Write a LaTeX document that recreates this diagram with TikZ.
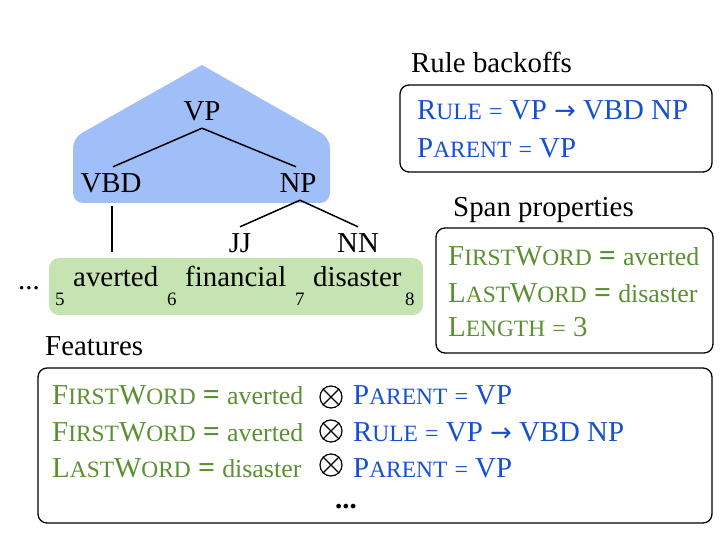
\documentclass[tikz,border=0pt]{standalone}
\usepackage{fontspec}
\setmainfont{Liberation Serif}
\newfontfamily\djv{DejaVu Sans}
\definecolor{bluetxt}{HTML}{1450D0}
\definecolor{greentxt}{HTML}{5A9032}
\definecolor{bluefill}{HTML}{A0BEF8}
\definecolor{greenfill}{HTML}{C6E4B2}
\newcommand\mainsz{\fontsize{29}{34}\selectfont}
\newcommand\scsz{\fontsize{23.5}{26}\selectfont}
\newcommand\smsz{\fontsize{26}{30}\selectfont}
\newcommand\subsz{\fontsize{19}{22}\selectfont}
\newcommand\SCx[2]{#1{\scsz #2}}
\newcommand\greq{{\fontsize{30}{30}\selectfont\bfseries =}}
\newcommand\bleq{{\fontsize{24}{26}\selectfont =}}
\newcommand\rarr{{\djv\fontsize{26}{30}\selectfont →}}
\newcommand\FW{\SCx{F}{IRST}\SCx{W}{ORD} \greq{} {\smsz averted}}
\newcommand\LW{\SCx{L}{AST}\SCx{W}{ORD} \greq{} {\smsz disaster}}
\newcommand\PA{\SCx{P}{ARENT} \bleq{} VP}
\newcommand\RU{\SCx{R}{ULE} \bleq{} VP \rarr{} VBD NP}
\begin{document}
\begin{tikzpicture}[x=1bp,y=-1bp,
  every node/.style={font=\mainsz, inner sep=0pt},
  lab/.style={anchor=base west},
  tree/.style={text height=19bp, text depth=0bp, inner ysep=7bp},
  box/.style={draw=black, line width=1.3bp, rounded corners=9bp},
  edge/.style={line width=1.5bp},
  otimes/.style={circle, draw=black, line width=1.2bp, minimum size=22bp}]
\useasboundingbox (0,0) rectangle (728,552);
% blue VP region
\fill[bluefill] (202,65) [rounded corners=10bp] -- (330,138) -- (330,203) -- (73,203) -- (73,138) [sharp corners] -- cycle;
% green span
\fill[greenfill, rounded corners=10bp] (49,258) rectangle (423,315);
% tree
\node[tree] (VP) at (202,111.5) {VP};
\node[tree] (VBD) at (111,183.5) {VBD};
\node[tree] (NP) at (298,183.5) {NP};
\node[tree] (JJ) at (240,243.5) {JJ};
\node[tree] (NN) at (358,243.5) {NN};
\coordinate (w5) at (112,252);
\draw[edge] (VP.south) -- ([xshift=2bp]VBD.north);
\draw[edge] (VP.south) -- ([xshift=-2bp]NP.north);
\draw[edge] ([xshift=1bp,yshift=-6bp]VBD.south) -- (w5);
\draw[edge] ([xshift=2bp]NP.south) -- (JJ.north);
\draw[edge] ([xshift=2bp]NP.south) -- (NN.north);
% words
\node[lab] (dots) at (18,290) {...};
\node[lab] (s5) at (55,305) {\subsz 5};
\node[lab] (averted) at (73,287) {averted};
\node[lab] (s6) at (167,305) {\subsz 6};
\node[lab] (financial) at (185,287) {financial};
\node[lab] (s7) at (295,305) {\subsz 7};
\node[lab] (disaster) at (313,287) {disaster};
\node[lab] (s8) at (405,305) {\subsz 8};
% rule backoffs
\node[lab] (rbt) at (411,73) {Rule backoffs};
\draw[box] (400,85) rectangle (712,172);
\node[lab, text=bluetxt] (r1) at (417,120) {\RU};
\node[lab, text=bluetxt] (r2) at (417,158) {\PA};
% span properties
\node[lab] (spt) at (453,217) {Span properties};
\draw[box] (436,228) rectangle (713,353);
\node[lab, text=greentxt] (g1) at (448,266) {\FW};
\node[lab, text=greentxt] (g2) at (448,302) {\LW};
\node[lab, text=greentxt] (g3) at (448,336) {\SCx{L}{ENGTH} \bleq{} 3};
% features
\node[lab] (ft) at (45,355) {Features};
\draw[box] (38,368) rectangle (712,523);
\node[lab, text=greentxt] (f1) at (52,404) {\FW};
\node[lab, text=greentxt] (f2) at (52,441) {\FW};
\node[lab, text=greentxt] (f3) at (52,477) {\LW};
\foreach \n/\yy in {o1/397,o2/431,o3/465}{
  \node[otimes] (\n) at (331,\yy) {};
  \draw[line width=1.2bp] (\n.45) -- (\n.225) (\n.135) -- (\n.315);
}
\node[lab, text=bluetxt] (b1) at (353,404) {\PA};
\node[lab, text=bluetxt] (b2) at (353,441) {\RU};
\node[lab, text=bluetxt] (b3) at (353,477) {\PA};
\node[lab] (fdots) at (335,508) {\textbf{...}};
\end{tikzpicture}
\end{document}
